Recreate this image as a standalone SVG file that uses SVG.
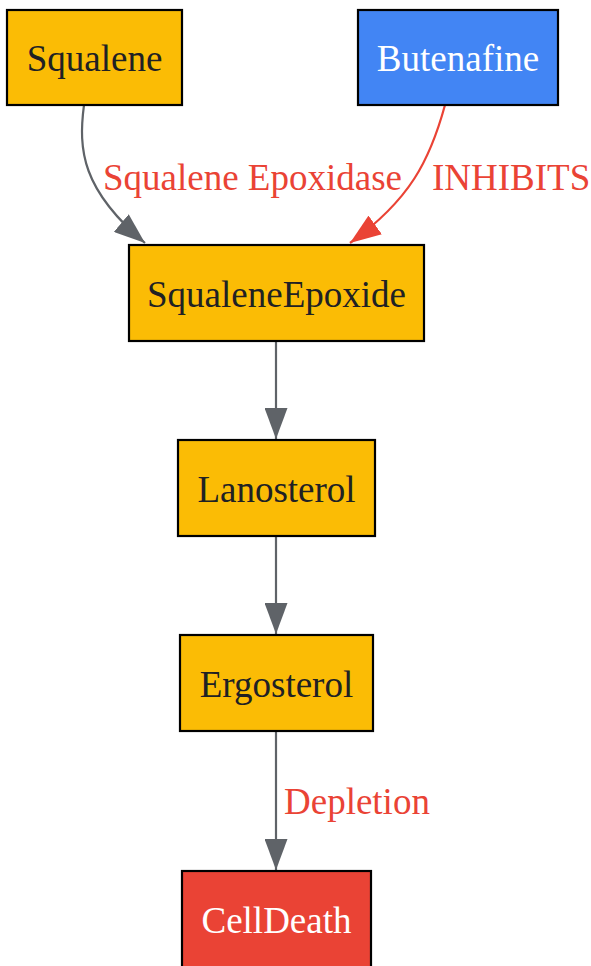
<svg xmlns="http://www.w3.org/2000/svg" width="591" height="966" viewBox="0 0 591 966">
<style>
.box{stroke:#000;stroke-width:2.2}
.y{fill:#FBBC05}
.b{fill:#4285F4}
.r{fill:#EA4335}
text{font-family:"Liberation Serif","Times New Roman",serif;font-size:37px;text-anchor:middle}
.dk{fill:#202124}
.wh{fill:#fff}
.lbl{fill:#EA4335;text-anchor:start}
.e{fill:none;stroke:#5F6368;stroke-width:2.2}
.er{fill:none;stroke:#EA4335;stroke-width:2.2}
</style>
<defs>
<marker id="ag" markerUnits="userSpaceOnUse" markerWidth="32" markerHeight="23" refX="31" refY="11.5" orient="auto" viewBox="0 0 32 23"><path d="M0,0 L31,11.5 L0,23 z" fill="#5F6368"/></marker>
<marker id="ar" markerUnits="userSpaceOnUse" markerWidth="32" markerHeight="23" refX="31" refY="11.5" orient="auto" viewBox="0 0 32 23"><path d="M0,0 L31,11.5 L0,23 z" fill="#EA4335"/></marker>
</defs>
<g id="connectors">
<path class="e" d="M84,105 C78,150 82,190 145,243" marker-end="url(#ag)"/>
<path class="er" d="M445,105 C430,160 410,200 350,243" marker-end="url(#ar)"/>
<path class="e" d="M276,341 L276,439" marker-end="url(#ag)"/>
<path class="e" d="M276,536 L276,634" marker-end="url(#ag)"/>
<path class="e" d="M276,731 L276,870" marker-end="url(#ag)"/>
<text class="lbl" x="103" y="190">Squalene Epoxidase</text>
<text class="lbl" x="432" y="190">INHIBITS</text>
<text class="lbl" x="284" y="814">Depletion</text>
</g>
<g id="Squalene"><rect class="box y" x="7" y="10" width="175" height="95"/><text class="dk" x="94.5" y="71">Squalene</text></g>
<g id="Butenafine"><rect class="box b" x="358" y="10" width="200" height="95"/><text class="wh" x="458" y="71">Butenafine</text></g>
<g id="SqualeneEpoxide"><rect class="box y" x="129" y="245" width="295" height="96"/><text class="dk" x="276.5" y="307">SqualeneEpoxide</text></g>
<g id="Lanosterol"><rect class="box y" x="178" y="440" width="197" height="96"/><text class="dk" x="276.5" y="502">Lanosterol</text></g>
<g id="Ergosterol"><rect class="box y" x="180" y="635" width="193" height="96"/><text class="dk" x="276.5" y="697">Ergosterol</text></g>
<g id="CellDeath"><rect class="box r" x="182" y="871" width="189" height="100"/><text class="wh" x="276.5" y="933">CellDeath</text></g>
</svg>
